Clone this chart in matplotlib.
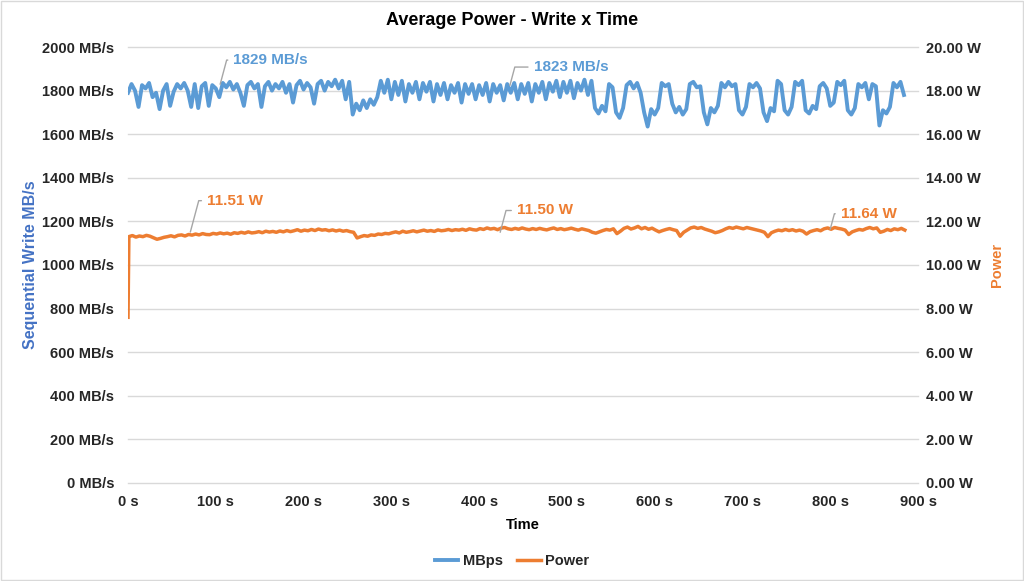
import numpy as np
import matplotlib.pyplot as plt
from matplotlib.patches import Rectangle

# Dados (amostras a cada 4 s)
mbps = [
    1790, 1830, 1800, 1725, 1825, 1810, 1835, 1770, 1790, 1715,
    1800, 1830, 1730, 1795, 1830, 1810, 1835, 1800, 1725, 1830,
    1720, 1820, 1835, 1730, 1825, 1810, 1770, 1835, 1815, 1840,
    1805, 1830, 1790, 1730, 1825, 1840, 1810, 1830, 1725, 1820,
    1840, 1800, 1830, 1810, 1840, 1790, 1830, 1745, 1825, 1845,
    1805, 1835, 1815, 1740, 1830, 1845, 1800, 1840, 1820, 1850,
    1810, 1845, 1760, 1840,
    1690, 1740, 1710, 1755, 1720, 1760, 1735, 1770,
    1845, 1790, 1850, 1760, 1840, 1780, 1845, 1750, 1830, 1790,
    1840, 1760, 1835, 1795, 1840, 1750, 1830, 1780, 1835, 1760,
    1825, 1790, 1835, 1745, 1830, 1785, 1830, 1760, 1825, 1780,
    1835, 1750, 1830, 1790, 1825, 1755, 1830, 1790, 1835, 1760,
    1830, 1785, 1835, 1750, 1830, 1790, 1840, 1760, 1835, 1795,
    1845, 1770, 1840, 1790, 1845, 1765, 1835, 1800, 1850, 1780, 1845,
    1720, 1695, 1730, 1705, 1830, 1815, 1700, 1675, 1720, 1825,
    1840, 1810, 1835, 1790, 1700, 1635, 1715, 1690, 1720, 1835,
    1820, 1830, 1740, 1700, 1725, 1690, 1715, 1830, 1840, 1815,
    1820, 1700, 1645, 1720, 1700, 1730, 1835, 1815, 1840, 1820,
    1830, 1710, 1690, 1725, 1830, 1815, 1835, 1810, 1700, 1660,
    1720, 1705, 1845, 1830, 1710, 1690, 1725, 1840, 1825, 1845,
    1710, 1695, 1730, 1715, 1820, 1835, 1810, 1730, 1745, 1840,
    1825, 1845, 1710, 1690, 1720, 1830, 1815, 1835, 1760, 1830,
    1820, 1640, 1710, 1695, 1725, 1835, 1815, 1840, 1780,
]
mbps_tempo = np.arange(len(mbps)) * 4

potencia = [
    7.60,
    11.30, 11.35, 11.28, 11.33, 11.30, 11.36, 11.32, 11.25, 11.18, 11.22, 11.27,
    11.30, 11.34, 11.29, 11.36, 11.38, 11.33, 11.40, 11.37, 11.42, 11.38,
    11.44, 11.40, 11.39, 11.45, 11.42, 11.47, 11.43, 11.46, 11.41, 11.48,
    11.45, 11.50, 11.46, 11.52, 11.47, 11.49, 11.53, 11.48, 11.55, 11.51,
    11.54, 11.50, 11.56, 11.52, 11.58, 11.53, 11.57, 11.62, 11.55, 11.60,
    11.57, 11.63, 11.58, 11.65, 11.60, 11.62, 11.57, 11.61, 11.56, 11.60,
    11.55, 11.58, 11.53, 11.50,
    11.24, 11.30, 11.35, 11.32, 11.38, 11.36, 11.42, 11.40, 11.45, 11.43,
    11.48, 11.52, 11.47, 11.55, 11.50, 11.53, 11.57, 11.52, 11.56, 11.60,
    11.55, 11.58, 11.54, 11.61, 11.57, 11.59, 11.63, 11.58, 11.62, 11.60,
    11.64, 11.59, 11.66, 11.62, 11.60, 11.67, 11.63, 11.70, 11.65, 11.68,
    11.62, 11.69, 11.72, 11.66, 11.63, 11.68, 11.64, 11.70, 11.65, 11.62,
    11.67, 11.63, 11.68, 11.64, 11.61, 11.66, 11.70, 11.63, 11.67, 11.62,
    11.65, 11.69, 11.64, 11.60, 11.66, 11.62, 11.58, 11.50, 11.46, 11.52,
    11.58, 11.63, 11.60, 11.66, 11.44, 11.55, 11.68, 11.74, 11.65, 11.70,
    11.77, 11.66, 11.72, 11.64, 11.69, 11.60, 11.52, 11.58, 11.63, 11.67,
    11.62, 11.58, 11.32, 11.50, 11.60, 11.70, 11.74, 11.68, 11.72, 11.65,
    11.60, 11.55, 11.48, 11.52, 11.58, 11.66, 11.72, 11.68, 11.74, 11.70,
    11.66, 11.72, 11.68, 11.64, 11.60, 11.56, 11.50, 11.30, 11.48, 11.55,
    11.60, 11.57, 11.63, 11.58, 11.62, 11.56, 11.60, 11.55, 11.42, 11.53,
    11.58, 11.62, 11.57, 11.66, 11.70, 11.64, 11.72, 11.68, 11.65, 11.60,
    11.40, 11.52, 11.58, 11.63, 11.60, 11.67, 11.72, 11.66, 11.70, 11.50,
    11.55, 11.63, 11.58, 11.66, 11.62, 11.68, 11.60,
]
potencia_tempo = np.r_[0, np.arange(1, 4 * (len(potencia) - 1), 4)]

# Rótulos de dados: (tempo, valor, texto, posição do texto)
rotulos_mbps = [(105, 1829, '1829 MB/s', (120, 1940)),
                (435, 1823, '1823 MB/s', (462, 1908))]
rotulos_pot = [(71, 11.51, '11.51 W', (90, 12.95)),
               (424, 11.50, '11.50 W', (443, 12.50)),
               (800, 11.64, '11.64 W', (812, 12.35))]

azul = '#5B9BD5'
azul_eixo = '#4472C4'
laranja = '#ED7D31'

plt.rcParams['font.family'] = ['Liberation Sans', 'DejaVu Sans']
plt.rcParams['font.weight'] = 'bold'

fig = plt.figure(figsize=(10.24, 5.81), dpi=100)
ax = fig.add_axes([0.125, 0.1687, 0.7715, 0.7504])
ax2 = ax.twinx()

ax.plot(mbps_tempo, mbps, color=azul, lw=2.8, label='MBps', zorder=3)
ax2.plot(potencia_tempo, potencia, color=laranja, lw=2.5, label='Power', zorder=3)

ax.set_xlim(0, 900)
ax.set_ylim(0, 2000)
ax2.set_ylim(0, 20)
ax.set_xticks(np.arange(0, 901, 100))
ax.set_xticklabels([f'{v} s' for v in range(0, 901, 100)])
ax.set_yticks(np.arange(0, 2001, 200))
ax.set_yticklabels([f'{v} MB/s' for v in range(0, 2001, 200)])
ax2.set_yticks(np.arange(0, 21, 2))
ax2.set_yticklabels([f'{v:.2f} W' for v in range(0, 21, 2)])

ax.grid(axis='y', color='#D9D9D9', lw=1.0)
for g in ax.get_ygridlines():
    g.set_clip_on(False)
ax.set_axisbelow(True)
for a in (ax, ax2):
    for s in a.spines.values():
        s.set_visible(False)
    a.tick_params(length=0, labelsize=10.5, colors='#262626')
ax.tick_params(axis='y', pad=10)
ax.tick_params(axis='x', pad=9)
ax2.tick_params(axis='y', pad=6)

# Título centrado na figura
fig.text(0.5, 0.965, 'Average Power - Write x Time', fontsize=13,
         fontweight='bold', ha='center', va='center')
ax.set_xlabel('Time', fontsize=10.5, fontweight='bold', labelpad=6)
ax.set_ylabel('Sequential Write MB/s', fontsize=11.5, fontweight='bold',
              color=azul_eixo, labelpad=3)
ax2.set_ylabel('Power', fontsize=10.5, fontweight='bold', color=laranja, labelpad=6)

# Rótulos com linha de chamada
for t, v, txt, pos in rotulos_mbps:
    ax.annotate(txt, xy=(t, v), xytext=pos, color=azul,
                fontsize=11, fontweight='bold', ha='left', va='center',
                arrowprops=dict(arrowstyle='-', color='#A6A6A6', lw=1,
                                shrinkA=2, shrinkB=0,
                                connectionstyle='angle,angleA=0,angleB=75'))
for t, v, txt, pos in rotulos_pot:
    ax2.annotate(txt, xy=(t, v), xytext=pos, color=laranja,
                 fontsize=11, fontweight='bold', ha='left', va='center',
                 arrowprops=dict(arrowstyle='-', color='#A6A6A6', lw=1,
                                 shrinkA=2, shrinkB=0,
                                 connectionstyle='angle,angleA=0,angleB=75'))

h1, l1 = ax.get_legend_handles_labels()
h2, l2 = ax2.get_legend_handles_labels()
fig.legend(h1 + h2, l1 + l2, loc='center', bbox_to_anchor=(0.5, 0.035), ncol=2,
           frameon=False, fontsize=10.5, handlelength=1.6, columnspacing=1.0,
           handletextpad=0.3)
for t in fig.legends[0].get_texts():
    t.set_color('#262626')

fig.patches.append(Rectangle((0.001, 0.001), 0.998, 0.997, transform=fig.transFigure,
                             fill=False, edgecolor='#D9D9D9', lw=1))

plt.savefig('out.png', dpi=100)
plt.close(fig)
